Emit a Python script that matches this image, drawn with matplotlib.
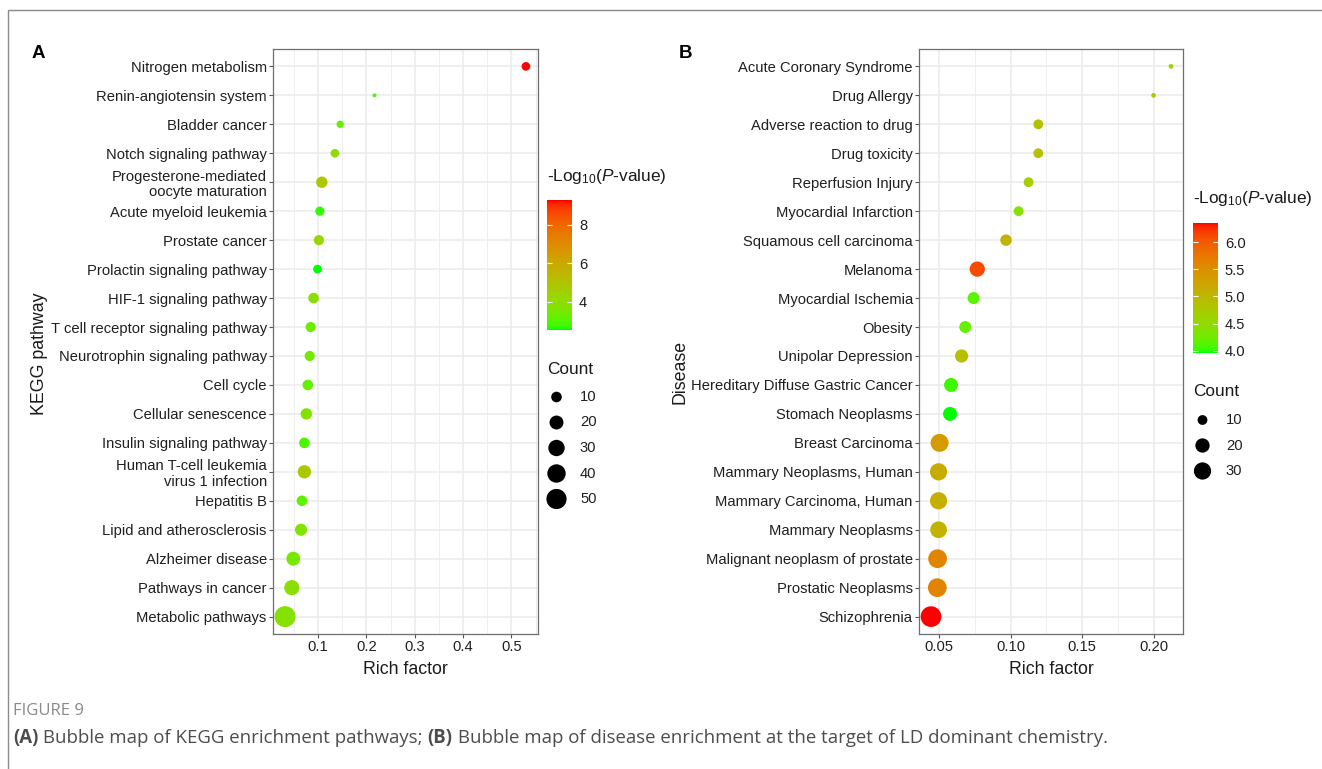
import numpy as np
import matplotlib
matplotlib.use('Agg')
import matplotlib.pyplot as plt
from matplotlib.colors import ListedColormap, Normalize
from matplotlib.cm import ScalarMappable
from matplotlib.patches import Rectangle

plt.rcParams['font.family'] = ['Liberation Sans', 'DejaVu Sans']
plt.rcParams['mathtext.fontset'] = 'custom'
plt.rcParams['mathtext.rm'] = 'Liberation Sans'
plt.rcParams['mathtext.it'] = 'Liberation Sans:italic'

# panel A: KEGG pathways (top to bottom)
kegg_terms = [
    'Nitrogen metabolism', 'Renin-angiotensin system', 'Bladder cancer',
    'Notch signaling pathway', 'Progesterone-mediated\noocyte maturation',
    'Acute myeloid leukemia', 'Prostate cancer', 'Prolactin signaling pathway',
    'HIF-1 signaling pathway', 'T cell receptor signaling pathway',
    'Neurotrophin signaling pathway', 'Cell cycle', 'Cellular senescence',
    'Insulin signaling pathway', 'Human T-cell leukemia\nvirus 1 infection',
    'Hepatitis B', 'Lipid and atherosclerosis', 'Alzheimer disease',
    'Pathways in cancer', 'Metabolic pathways',
]
kegg_rich = [0.530, 0.217, 0.146, 0.135, 0.108, 0.104, 0.102, 0.099, 0.091, 0.085,
             0.083, 0.079, 0.076, 0.072, 0.072, 0.067, 0.065, 0.049, 0.046, 0.032]
kegg_count = [6, 2, 4, 6, 12, 7, 9, 6, 10, 9, 9, 10, 12, 10, 18, 10, 14, 20, 25, 55]
kegg_logp = [9.30, 3.0, 3.2, 4.0, 4.8, 2.7, 4.3, 2.52, 3.9, 3.3,
             3.4, 3.2, 3.7, 2.9, 4.8, 3.1, 3.7, 3.5, 3.9, 3.8]
kegg_xticks = [0.1, 0.2, 0.3, 0.4, 0.5]
kegg_cbar_ticks = [4, 6, 8]
kegg_count_breaks = [10, 20, 30, 40, 50]

# panel B: diseases (top to bottom)
dis_terms = [
    'Acute Coronary Syndrome', 'Drug Allergy', 'Adverse reaction to drug',
    'Drug toxicity', 'Reperfusion Injury', 'Myocardial Infarction',
    'Squamous cell carcinoma', 'Melanoma', 'Myocardial Ischemia', 'Obesity',
    'Unipolar Depression', 'Hereditary Diffuse Gastric Cancer',
    'Stomach Neoplasms', 'Breast Carcinoma', 'Mammary Neoplasms, Human',
    'Mammary Carcinoma, Human', 'Mammary Neoplasms',
    'Malignant neoplasm of prostate', 'Prostatic Neoplasms', 'Schizophrenia',
]
dis_rich = [0.2122, 0.200, 0.1193, 0.1193, 0.1125, 0.1055, 0.0967, 0.0766, 0.074, 0.0682,
            0.0656, 0.0582, 0.0575, 0.0502, 0.0495, 0.0495, 0.0495, 0.0488, 0.0486, 0.0442]
dis_count = [6, 6, 10, 10, 10, 10, 13, 23, 14, 14, 17, 19, 19, 33, 30, 30, 28, 36, 36, 45]
dis_logp = [4.6, 4.6, 4.85, 4.85, 4.7, 4.4, 5.05, 6.1, 4.15, 4.2,
            4.9, 4.05, 3.96, 5.35, 5.15, 5.1, 5.05, 5.6, 5.6, 6.35]
dis_xticks = [0.05, 0.10, 0.15, 0.20]
dis_cbar_ticks = [4.0, 4.5, 5.0, 5.5, 6.0]
dis_count_breaks = [10, 20, 30]

W, H = 1322, 769
TICK_FS = 10.6
TITLE_FS = 12.8
LEG_FS = 12.4


def srgb_to_lab(rgb):
    rgb = np.asarray(rgb, dtype=float)
    lin = np.where(rgb <= 0.04045, rgb / 12.92, ((rgb + 0.055) / 1.055) ** 2.4)
    m = np.array([[0.4124564, 0.3575761, 0.1804375],
                  [0.2126729, 0.7151522, 0.0721750],
                  [0.0193339, 0.1191920, 0.9503041]])
    xyz = lin @ m.T / np.array([0.95047, 1.0, 1.08883])
    d = 6 / 29
    f = np.where(xyz > d ** 3, np.cbrt(xyz), xyz / (3 * d * d) + 4 / 29)
    return np.stack([116 * f[..., 1] - 16,
                     500 * (f[..., 0] - f[..., 1]),
                     200 * (f[..., 1] - f[..., 2])], axis=-1)


def lab_to_srgb(lab):
    fy = (lab[..., 0] + 16) / 116
    fx = fy + lab[..., 1] / 500
    fz = fy - lab[..., 2] / 200
    f = np.stack([fx, fy, fz], axis=-1)
    d = 6 / 29
    xyz = np.where(f > d, f ** 3, 3 * d * d * (f - 4 / 29)) * np.array([0.95047, 1.0, 1.08883])
    minv = np.linalg.inv(np.array([[0.4124564, 0.3575761, 0.1804375],
                                   [0.2126729, 0.7151522, 0.0721750],
                                   [0.0193339, 0.1191920, 0.9503041]]))
    lin = np.clip(xyz @ minv.T, 0, 1)
    return np.where(lin <= 0.0031308, 12.92 * lin, 1.055 * lin ** (1 / 2.4) - 0.055)


def green_red_cmap(n=256):
    # ggplot-style gradient: interpolate green -> red in Lab space
    lo = srgb_to_lab([0.0, 1.0, 0.0])
    hi = srgb_to_lab([1.0, 0.0, 0.0])
    t = np.linspace(0, 1, n)[:, None]
    return ListedColormap(np.clip(lab_to_srgb(lo + (hi - lo) * t), 0, 1))


def bubble_px(count, cmin, cmax, dmin, dmax):
    frac = (np.asarray(count, dtype=float) - cmin) / (cmax - cmin)
    return dmin + (dmax - dmin) * np.sqrt(np.clip(frac, 0, 1))


def fig_rect(left, top, right, bottom):
    return [left / W, 1 - bottom / H, (right - left) / W, (bottom - top) / H]


cmap = green_red_cmap()

fig = plt.figure(figsize=(W / 100, H / 100), dpi=100)
ov = fig.add_axes([0, 0, 1, 1])
ov.set_xlim(0, W)
ov.set_ylim(H, 0)
ov.axis('off')
ov.add_patch(Rectangle((8, 10), 3000, 3000, fill=False, edgecolor='#8c8c8c', lw=1.0))


def panel(box, terms, rich, count, logp, xticks, xlabels, dmin, dmax):
    ax = fig.add_axes(fig_rect(*box))
    n = len(terms)
    y = np.arange(n)[::-1]
    cmin, cmax = min(count), max(count)
    norm = Normalize(min(logp), max(logp))
    d = bubble_px(count, cmin, cmax, dmin, dmax)
    ax.scatter(rich, y, s=(d * 0.72) ** 2, c=logp, cmap=cmap, norm=norm,
               linewidths=0, zorder=3)
    span = max(rich) - min(rich)
    lo, hi = min(rich) - 0.05 * span, max(rich) + 0.05 * span
    ax.set_yticks(y)
    ax.set_yticklabels(terms)
    for lbl in ax.get_yticklabels():
        lbl.set_linespacing(1.12)
    ax.set_xticks(xticks)
    ax.set_xticklabels(xlabels)
    step = xticks[1] - xticks[0]
    minor = np.arange(xticks[0] - step / 2, hi, step)
    ax.set_xticks(minor[minor > lo], minor=True)
    ax.set_xlim(lo, hi)
    ax.set_ylim(-0.6, n - 0.4)
    ax.grid(True, which='major', color='#EBEBEB', lw=1.1, zorder=0)
    ax.grid(True, which='minor', axis='x', color='#EBEBEB', lw=0.6, zorder=0)
    ax.set_axisbelow(True)
    ax.tick_params(which='major', direction='out', length=3, width=0.8,
                   color='#555555', labelcolor='#1f1f1f', labelsize=TICK_FS, pad=1.5)
    ax.tick_params(which='minor', length=0)
    for sp in ax.spines.values():
        sp.set_color('#6e6e6e')
        sp.set_linewidth(0.9)
    return ax, norm, cmin, cmax


def colorbar(norm, rect, ticks, fmt):
    cax = fig.add_axes(fig_rect(*rect))
    cb = fig.colorbar(ScalarMappable(norm=norm, cmap=cmap), cax=cax)
    cb.outline.set_visible(False)
    cb.set_ticks(ticks)
    cb.set_ticklabels([fmt % t for t in ticks])
    cax.tick_params(length=0, labelsize=TICK_FS, labelcolor='#1f1f1f', pad=5)
    cax.hlines(ticks, 0, 0.2, colors='white', lw=0.8)
    cax.hlines(ticks, 0.8, 1, colors='white', lw=0.8)


def size_legend(x, y_title, y0, breaks, cmin, cmax, dmin, dmax):
    ov.text(x, y_title, 'Count', fontsize=LEG_FS, va='center', ha='left', color='#1a1a1a')
    ys = y0 + 25.5 * np.arange(len(breaks))
    d = bubble_px(breaks, cmin, cmax, dmin, dmax)
    ov.scatter(np.full(len(breaks), x + 9.5), ys, s=(d * 0.72) ** 2, color='black',
               linewidths=0)
    for yy, b in zip(ys, breaks):
        ov.text(x + 33, yy, str(b), fontsize=TICK_FS, va='center', ha='left', color='#1f1f1f')


cbar_title = r'-Log$_{\mathregular{10}}$($\mathit{P}$-value)'

# panel A
axA, normA, cminA, cmaxA = panel((273, 49, 538, 634), kegg_terms, kegg_rich, kegg_count,
                                 kegg_logp, kegg_xticks, ['%.1f' % v for v in kegg_xticks],
                                 4.0, 21.0)
colorbar(normA, (547, 200, 572, 330), kegg_cbar_ticks, '%d')
ov.text(547, 177, cbar_title, fontsize=LEG_FS, va='center', ha='left', color='#1a1a1a')
size_legend(547, 370, 397, kegg_count_breaks, cminA, cmaxA, 4.0, 21.0)
ov.text(405, 669, 'Rich factor', fontsize=TITLE_FS, ha='center', va='center', color='#1a1a1a')
ov.text(40, 354, 'KEGG pathway', fontsize=TITLE_FS, rotation=90, ha='center', va='center',
        color='#1a1a1a')
ov.text(38, 53, 'A', fontsize=13.5, fontweight='bold', ha='center', va='center')

# panel B
axB, normB, cminB, cmaxB = panel((919, 49, 1183, 634), dis_terms, dis_rich, dis_count,
                                 dis_logp, dis_xticks, ['%.2f' % v for v in dis_xticks],
                                 4.7, 20.7)
colorbar(normB, (1193, 223, 1218, 353), dis_cbar_ticks, '%.1f')
ov.text(1193, 198, cbar_title, fontsize=LEG_FS, va='center', ha='left', color='#1a1a1a')
size_legend(1193, 392, 420, dis_count_breaks, cminB, cmaxB, 4.7, 20.7)
ov.text(1051, 669, 'Rich factor', fontsize=TITLE_FS, ha='center', va='center', color='#1a1a1a')
ov.text(680, 372, 'Disease', fontsize=TITLE_FS, rotation=90, ha='center', va='center',
        color='#1a1a1a')
ov.text(685, 53, 'B', fontsize=13.5, fontweight='bold', ha='center', va='center')

# caption
cap_font = ['Open Sans', 'DejaVu Sans']
ov.text(13, 711, 'FIGURE 9', fontsize=12, family=cap_font, color='#8a8a8a',
        ha='left', va='center')
parts = [('(A)', 'bold'), (' Bubble map of KEGG enrichment pathways; ', 'normal'),
         ('(B)', 'bold'),
         (' Bubble map of disease enrichment at the target of LD dominant chemistry.', 'normal')]
fig.canvas.draw()
r = fig.canvas.get_renderer()
xpos = 13
for txt, wt in parts:
    t = ov.text(xpos, 738, txt, fontsize=13.4, family=cap_font, fontweight=wt,
                color='#4d4d4d', ha='left', va='center')
    xpos += t.get_window_extent(renderer=r).width

fig.savefig('out.png', dpi=100)
